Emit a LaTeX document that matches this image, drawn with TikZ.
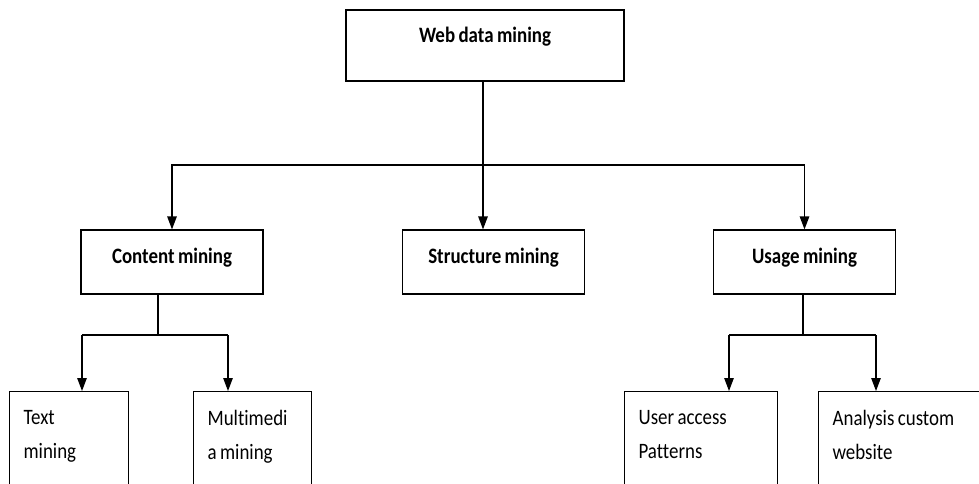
\documentclass[tikz,border=0pt]{standalone}
\usepackage{fontspec}
\setmainfont{Carlito}[FakeStretch=0.86, Ligatures=NoCommon, WordSpace=0.8]
\usetikzlibrary{arrows.meta}

\begin{document}
\begin{tikzpicture}[
      x=1pt, y=-1pt,
      line width=1.2pt,
      box/.style={draw, rectangle, inner sep=0pt,
                  font=\fontsize{22}{34}\selectfont\bfseries},
      topbox/.style={box, minimum width=278pt, minimum height=71pt,
                     text height=15pt, text depth=20pt},
      catbox/.style={box, minimum width=182pt, minimum height=64pt,
                     text height=15pt, text depth=13pt},
      leafbox/.style={draw, rectangle, anchor=north west, align=flush left,
                      inner xsep=14pt, inner ysep=18.5pt, text depth=60pt,
                      text width=#1, font=\fontsize{22}{34}\selectfont},
      arr/.style={-{Triangle[length=13pt,width=9.5pt]}},
    ]
    \clip (0,0) rectangle (979,484);
    \node[topbox] (web) at (485,45.5) {Web data mining};
    \node[catbox] (content) at (172,262) {Content mining};
    \node[catbox] (structure) at (493.5,262) {Structure mining};
    \node[catbox] (usage) at (804.5,262) {Usage mining};
    \node[leafbox=91pt] (textm) at (9,391) {Text\\mining};
    \node[leafbox=90pt] (multi) at (193,391) {Multimedi\\a mining};
    \node[leafbox=125pt] (user) at (624,391) {User access\\Patterns};
    \node[leafbox=150pt] (analysis) at (818,391) {Analysis custom\\website};
    % junctions
    \coordinate (split) at (483,165);
    \coordinate (csplit) at (158,335);
    \coordinate (cl) at (82,335);
    \coordinate (cr) at (228,335);
    \coordinate (usplit) at (803,335);
    \coordinate (ul) at (729,335);
    \coordinate (ur) at (876,335);
    % level 1
    \draw (split |- web.south) -- (split);
    \draw[arr] (split) -| (content.north);
    \draw[arr] (split) -- (split |- structure.north);
    \draw[arr] (split) -| (usage.north);
    % content branch
    \draw (csplit |- content.south) -- (csplit);
    \draw (cl) -- (cr);
    \draw[arr] (cl) -- (cl |- textm.north);
    \draw[arr] (cr) -- (cr |- multi.north);
    % usage branch
    \draw (usplit |- usage.south) -- (usplit);
    \draw (ul) -- (ur);
    \draw[arr] (ul) -- (ul |- user.north);
    \draw[arr] (ur) -- (ur |- analysis.north);
  \end{tikzpicture}
\end{document}
